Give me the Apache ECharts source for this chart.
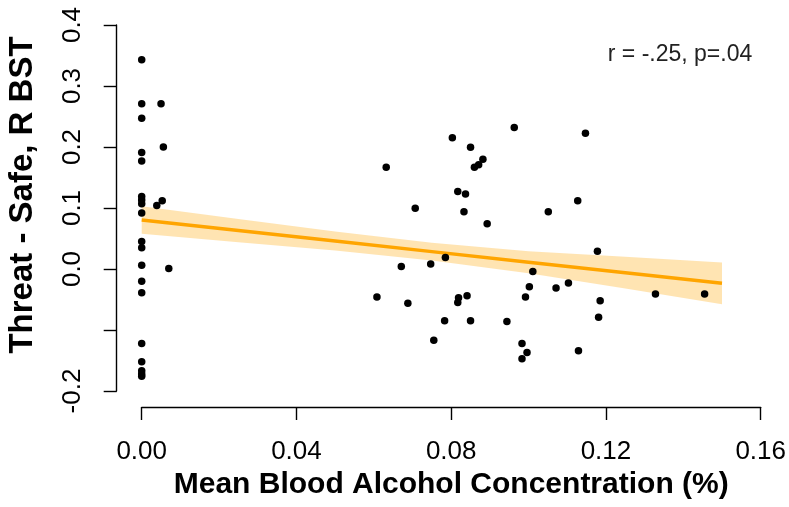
<!DOCTYPE html>
<html>
<head>
<meta charset="utf-8">
<script src="https://cdn.jsdelivr.net/npm/echarts@6/dist/echarts.min.js"></script>
<style>
html,body{margin:0;padding:0;background:#fff;}
#chart{width:789px;height:507px;}
</style>
</head>
<body>
<div id="chart"></div>
<script>
// ---- data ----
var xValues = [
  0,0,0,0,0,0,0,0,0,0,0,0,0,0,0,0,0,0,0,
  0.0050,0.0056,0.0053,0.0039,0.0070,
  0.0963,0.0803,0.0850,0.0882,0.0871,0.0860,0.0632,0.0817,0.0837,0.0707,0.0833,0.1051,0.0893,
  0.0785,0.0747,0.0671,0.1011,0.1002,0.1071,0.0608,0.0688,0.0819,0.0817,0.0841,0.0992,
  0.0783,0.0850,0.0944,0.0755,0.0983,0.0996,0.0983,
  0.1147,0.1127,0.1178,0.1103,0.1185,0.1181,0.1328,0.1455,0.1129
];
var yValues = [
  0.343,0.271,0.247,0.191,0.177,0.119,0.113,0.107,0.092,0.045,0.035,0.006,-0.020,-0.039,-0.122,-0.152,-0.167,-0.172,-0.176,
  0.271,0.200,0.112,0.104,0.001,
  0.232,0.215,0.1995,0.180,0.171,0.1667,0.1667,0.127,0.123,0.0995,0.094,0.094,0.074,
  0.019,0.0083,0.004,-0.004,-0.029,-0.031,-0.046,-0.056,-0.047,-0.055,-0.044,-0.046,
  -0.085,-0.085,-0.086,-0.117,-0.122,-0.137,-0.147,
  0.2225,0.112,0.029,-0.023,-0.052,-0.079,-0.041,-0.041,-0.134
];
// fitted line and confidence band, read at sample x positions
var fitX     = [0, 0.025, 0.05, 0.075, 0.1, 0.125, 0.15];
var fitY     = [0.0803, 0.0630, 0.0458, 0.0285, 0.0112, -0.0061, -0.0234];
var bandUpper= [0.1027, 0.0820, 0.0613, 0.0430, 0.0292, 0.0199, 0.0108];
var bandLower= [0.0579, 0.0440, 0.0303, 0.0140, -0.0068, -0.0321, -0.0576];
var xTickLabels = ['0.00','0.04','0.08','0.12','0.16'];
var yTickLabels = ['-0.2','','0.0','0.1','0.2','0.3','0.4'];
var annotation = 'r = -.25, p=.04';
var xTitle = 'Mean Blood Alcohol Concentration (%)';
var yTitle = 'Threat - Safe, R BST';

// ---- build ----
var points = xValues.map(function(x,i){ return [x, yValues[i]]; });
var linePts = fitX.map(function(x,i){ return [x, fitY[i]]; });
var bandData = fitX.map(function(x,i){ return [x, bandLower[i], bandUpper[i]]; });
var FONT = '"Liberation Sans", Arial, sans-serif';

var chart = echarts.init(document.getElementById('chart'), null, {renderer:'canvas'});
chart.setOption({
  animation:false,
  backgroundColor:'#fff',
  grid:{left:141.7, right:27.3, top:25, bottom:116, containLabel:false},
  xAxis:{
    type:'value', min:0, max:0.16, interval:0.04, offset:16,
    name:xTitle, nameLocation:'middle', nameGap:62,
    nameTextStyle:{fontFamily:FONT, fontWeight:'bold', fontSize:30, color:'#000'},
    axisLine:{show:true, onZero:false, lineStyle:{color:'#000', width:1.4}},
    axisTick:{show:true, length:13, lineStyle:{color:'#000', width:1.4}},
    axisLabel:{margin:32, fontFamily:FONT, fontSize:26, color:'#000',
      formatter:function(v){ return xTickLabels[Math.round(v/0.04)]; }},
    splitLine:{show:false}
  },
  yAxis:{
    type:'value', min:-0.2, max:0.4, interval:0.1, offset:25,
    axisLine:{show:true, onZero:false, lineStyle:{color:'#000', width:1.4}},
    axisTick:{show:true, length:13, lineStyle:{color:'#000', width:1.4}},
    axisLabel:{margin:31, rotate:90, fontFamily:FONT, fontSize:26, color:'#000',
      formatter:function(v){ return yTickLabels[Math.round((v+0.2)/0.1)]; }},
    splitLine:{show:false}
  },
  graphic:[
    {type:'text', x:23, y:195, rotation:Math.PI/2,
      style:{text:yTitle, fontFamily:FONT, fontWeight:'bold', fontSize:33, fill:'#000',
        align:'center', verticalAlign:'middle'}},
    {type:'text', x:680, y:55,
      style:{text:annotation, fontFamily:FONT, fontSize:23, fill:'#222',
        align:'center', verticalAlign:'middle'}}
  ],
  series:[
    {
      type:'custom', z:1, silent:true,
      data:[0],
      renderItem:function(params, api){
        var pts = [];
        for (var i=0;i<bandData.length;i++) pts.push(api.coord([bandData[i][0], bandData[i][2]]));
        for (var j=bandData.length-1;j>=0;j--) pts.push(api.coord([bandData[j][0], bandData[j][1]]));
        return {type:'polygon', shape:{points:pts}, style:{fill:'rgba(255,165,0,0.3)'}};
      }
    },
    {
      type:'line', z:2, data:linePts, showSymbol:false, symbol:'none',
      lineStyle:{color:'#FFA500', width:3.5}
    },
    {
      type:'scatter', z:3, data:points, symbol:'circle', symbolSize:7.5,
      itemStyle:{color:'#000', opacity:1}, clip:false
    }
  ]
});
</script>
</body>
</html>
